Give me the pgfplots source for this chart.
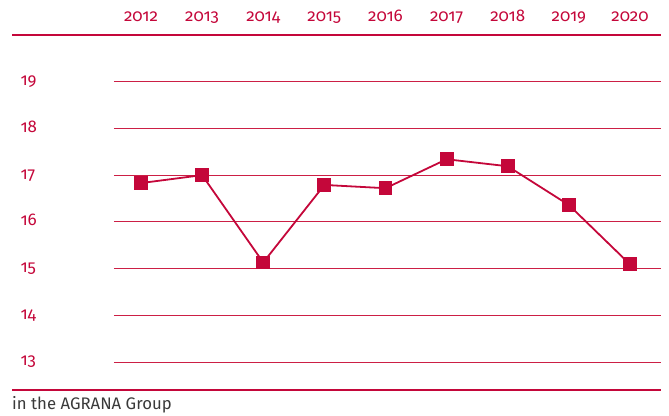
\documentclass[border=0pt]{standalone}
\usepackage{fontspec}
\setmainfont{Fira Sans}[Numbers=OldStyle]
\usepackage{pgfplots}
\pgfplotsset{compat=1.18}
\definecolor{agred}{HTML}{C4073A}
\definecolor{agline}{HTML}{CC1F45}
\definecolor{aggray}{HTML}{3A3A3A}
\newcommand{\tl}[1]{\textnormal{\fontsize{17}{19}\selectfont #1}}
\begin{document}
\begin{tikzpicture}
\useasboundingbox (0,0) rectangle (669bp,416bp);
\begin{axis}[
  at={(12bp,26bp)}, anchor=south west,
  scale only axis, width=649bp, height=355bp,
  xmin=2009.890, xmax=2020.507, ymin=12.4, ymax=20.0,
  axis line style={draw=none},
  major tick length=0pt,
  xtick={2012,2013,2014,2015,2016,2017,2018,2019,2020},
  xticklabels={\tl{2012},\tl{2013},\tl{2014},\tl{2015},\tl{2016},\tl{2017},\tl{2018},\tl{2019},\tl{2020}},
  ytick={13,14,15,16,17,18,19},
  yticklabels={\tl{13},\tl{14},\tl{15},\tl{16},\tl{17},\tl{18},\tl{19}},
  xticklabel pos=upper,
  xticklabel style={anchor=base, yshift=13bp, text=agred},
  yticklabel style={anchor=base west, xshift=5bp, yshift=-4bp, text=agred},
  clip=false,
]
\foreach \k in {13,...,19}{
  \edef\tmp{\noexpand\draw[agline, line width=0.9bp] (axis cs:2011.558,\k) -- (axis cs:2020.507,\k);}
  \tmp
}
\draw[agred, line width=1.3bp] (rel axis cs:0,1) -- (rel axis cs:1,1);
\draw[agred, line width=1.3bp] (rel axis cs:0,0) -- (rel axis cs:1,0);
\node[anchor=base west, inner sep=0pt, text=aggray, font=\fontsize{16.8}{19}\selectfont] at ([yshift=-20bp]rel axis cs:0,0) {in the AGRANA Group};
\addplot[agred, line width=1.8bp, mark=square*, mark size=6bp, mark options={solid}] coordinates {
(2012,16.83) (2013,17.00) (2014,15.13) (2015,16.79) (2016,16.72) (2017,17.34) (2018,17.19) (2019,16.36) (2020,15.09)
};
\end{axis}
\end{tikzpicture}
\end{document}
